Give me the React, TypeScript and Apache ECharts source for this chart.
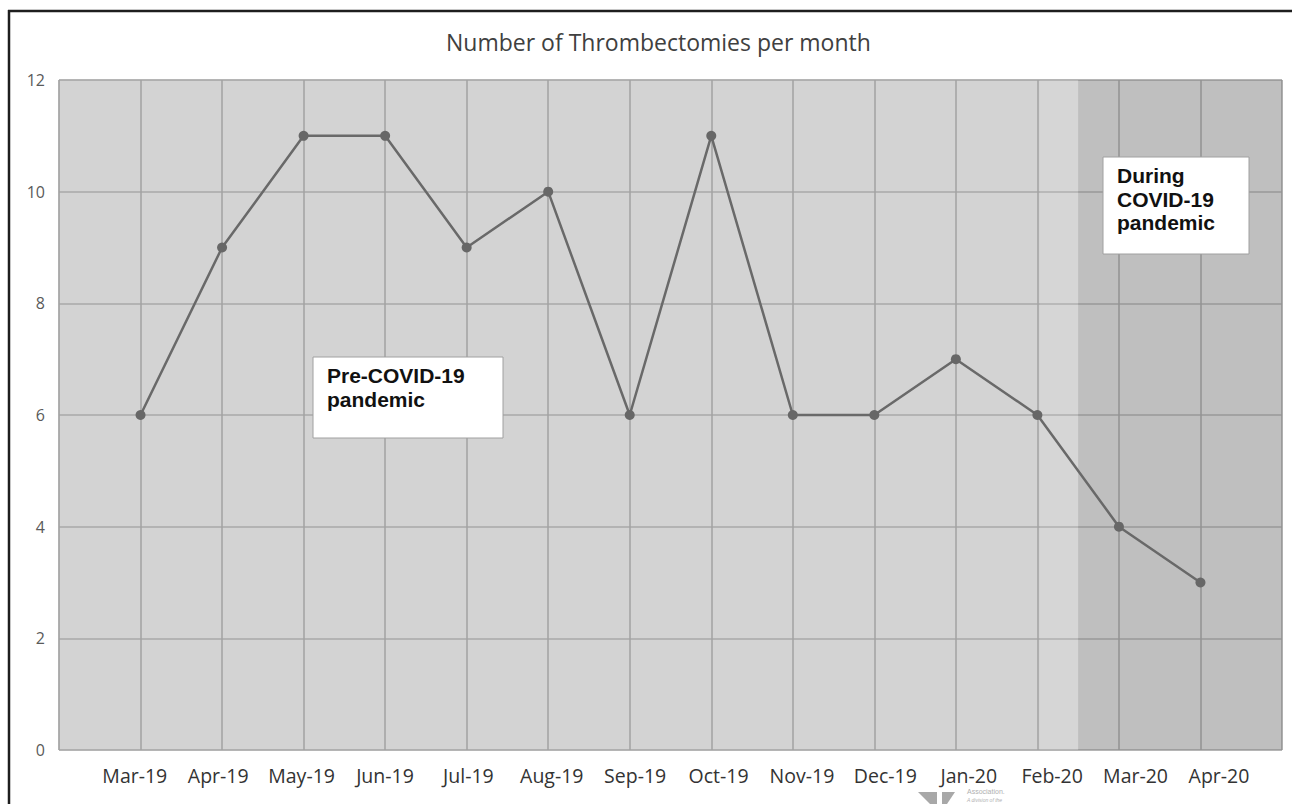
import React, { useEffect, useRef } from "react";
import * as echarts from "echarts";

const months = [
  "Mar-19", "Apr-19", "May-19", "Jun-19", "Jul-19", "Aug-19", "Sep-19",
  "Oct-19", "Nov-19", "Dec-19", "Jan-20", "Feb-20", "Mar-20", "Apr-20",
];
const thrombectomies = [6, 9, 11, 11, 9, 10, 6, 11, 6, 6, 7, 6, 4, 3];
const yMin = 0;
const yMax = 12;
const yStep = 2;
const covidStart = 11.5;
const title = "Number of Thrombectomies per month";
const preLabel = "Pre-COVID-19\npandemic";
const duringLabel = "During\nCOVID-19\npandemic";

export default function App() {
  const ref = useRef<HTMLDivElement>(null);
  useEffect(() => {
    const chart = echarts.init(ref.current!, null, { renderer: "svg" });
    const data = thrombectomies.map((v, i) => [i, v]);
    chart.setOption({
      animation: false,
      backgroundColor: "#ffffff",
      title: {
        text: title,
        left: 441,
        top: 25,
        textStyle: { fontFamily: "Open Sans", fontSize: 23, fontWeight: "normal", color: "#404040" },
      },
      grid: {
        left: 59, top: 80, width: 1223, height: 670,
        show: true, backgroundColor: "#d3d3d3", borderColor: "#b4b4b4", borderWidth: 1,
      },
      xAxis: [
        {
          type: "value", min: -1, max: months.length, interval: 1, position: "bottom",
          axisLine: { show: false }, axisTick: { show: false }, axisLabel: { show: false },
          splitLine: { show: true, lineStyle: { color: "#a2a2a2", width: 1.5 } },
        },
        {
          type: "value", min: -0.909, max: 13.756, position: "bottom",
          axisLine: { show: false }, axisTick: { show: false }, splitLine: { show: false },
          axisLabel: {
            customValues: months.map((_, i) => i),
            formatter: (v: number) => months[Math.round(v)] ?? "",
            fontFamily: "Open Sans", fontSize: 19.5, color: "#333333", margin: 15,
          },
        },
      ],
      yAxis: {
        type: "value", min: yMin, max: yMax, interval: yStep,
        axisLine: { show: false }, axisTick: { show: false },
        axisLabel: { fontFamily: "Open Sans", fontSize: 16, color: "#5a5a5a", margin: 14 },
        splitLine: { show: true, lineStyle: { color: "#a8a8a8", width: 1.5 } },
      },
      series: [
        {
          type: "line",
          xAxisIndex: 0,
          data,
          symbol: "circle",
          symbolSize: 10,
          lineStyle: { color: "#696969", width: 2.5 },
          itemStyle: { color: "#676767" },
          markArea: {
            silent: true,
            data: [
              [{ xAxis: 11.03, itemStyle: { color: "rgba(255,255,255,0.08)" } }, { xAxis: covidStart }],
              [{ xAxis: covidStart, itemStyle: { color: "rgba(0,0,0,0.095)" } }, { xAxis: months.length }],
            ],
          },
        },
      ],
      graphic: [
        { type: "line", z: 100, shape: { x1: 9, y1: 10, x2: 9, y2: 804 }, style: { stroke: "#1e1e1e", lineWidth: 2.5 } },
        { type: "line", z: 100, shape: { x1: 8, y1: 11, x2: 1292, y2: 11 }, style: { stroke: "#1e1e1e", lineWidth: 2.5 } },
        {
          type: "group",
          z: 100,
          children: [
            { type: "rect", z: 100, shape: { x: 313, y: 357, width: 190, height: 81 }, style: { fill: "#ffffff", stroke: "#a0a0a0", lineWidth: 1 } },
            {
              type: "text", z: 101, x: 327, y: 363,
              style: { text: preLabel, font: 'bold 21px "Liberation Sans", Arial', lineHeight: 24, fill: "#111111" },
            },
          ],
        },
        {
          type: "group",
          z: 100,
          children: [
            { type: "rect", z: 100, shape: { x: 1103, y: 157, width: 146, height: 97 }, style: { fill: "#ffffff", stroke: "#a0a0a0", lineWidth: 1 } },
            {
              type: "text", z: 101, x: 1117, y: 164,
              style: { text: duringLabel, font: 'bold 21px "Liberation Sans", Arial', lineHeight: 23.5, fill: "#111111" },
            },
          ],
        },
        { type: "polygon", shape: { points: [[918, 792], [937, 792], [937, 804], [930, 804]] }, style: { fill: "#a8a8a8" } },
        { type: "polygon", shape: { points: [[942, 792], [955, 792], [947, 804], [942, 804]] }, style: { fill: "#a8a8a8" } },
        { type: "text", x: 967, y: 788, style: { text: "Association.", font: "7px Liberation Sans", fill: "#b0b0b0" } },
        { type: "text", x: 967, y: 797, style: { text: "A division of the", font: "italic 5px Liberation Sans", fill: "#b0b0b0" } },
      ],
    });
    return () => chart.dispose();
  }, []);
  return <div ref={ref} style={{ position: "absolute", left: 0, top: 0, width: 1292, height: 804 }} />;
}
